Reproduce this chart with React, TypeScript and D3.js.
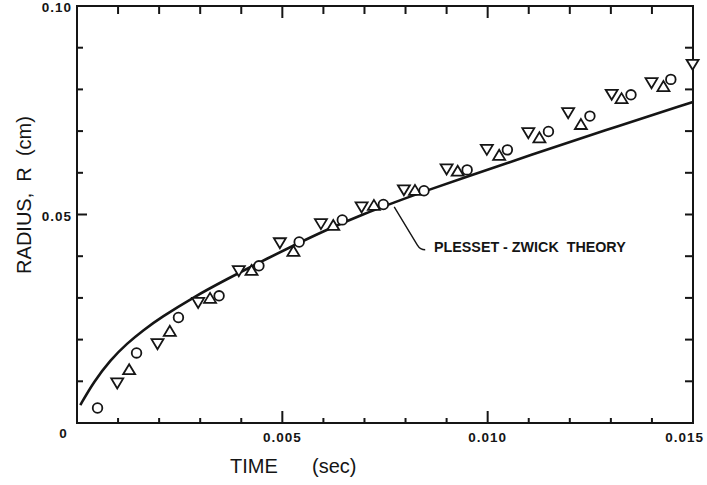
import React from "react";
import * as d3 from "d3";

// ---- data ----
const circleTime = [0.0005, 0.00145, 0.00247, 0.00346, 0.00443, 0.00541, 0.00646, 0.00746, 0.00845, 0.0095, 0.01048, 0.01148, 0.01249, 0.01349, 0.01446];
const circleRadius = [0.0036, 0.0168, 0.0253, 0.0305, 0.0377, 0.0434, 0.0487, 0.0524, 0.0557, 0.0607, 0.0655, 0.0699, 0.0736, 0.0787, 0.0824];

const upTime = [0.00127, 0.00226, 0.00324, 0.00425, 0.00527, 0.00624, 0.00723, 0.00823, 0.00927, 0.01028, 0.01126, 0.01227, 0.01326, 0.01428];
const upRadius = [0.0129, 0.0221, 0.0300, 0.0367, 0.0413, 0.0475, 0.0523, 0.0559, 0.0605, 0.0643, 0.0685, 0.0717, 0.0779, 0.0808];

const downTime = [0.00098, 0.00196, 0.00295, 0.00394, 0.00494, 0.00594, 0.00693, 0.00796, 0.009, 0.00998, 0.01099, 0.01196, 0.01302, 0.01399, 0.01499];
const downRadius = [0.0095, 0.0189, 0.0288, 0.0364, 0.0431, 0.0477, 0.0517, 0.0558, 0.0608, 0.0655, 0.0695, 0.0743, 0.0787, 0.0815, 0.0859];

const theoryTime = [0.00008, 0.00041, 0.00081, 0.00122, 0.00162, 0.00203, 0.00284, 0.00365, 0.00446, 0.00528, 0.00609, 0.007, 0.0077, 0.0085, 0.0095, 0.011, 0.0128, 0.015];
const theoryRadius = [0.0043, 0.0099, 0.0151, 0.0191, 0.0223, 0.0252, 0.0302, 0.0345, 0.0386, 0.0426, 0.0464, 0.0502, 0.0528, 0.0557, 0.0591, 0.0641, 0.07, 0.077];

const xMinorTicks = [0.001, 0.002, 0.003, 0.004, 0.005, 0.006, 0.007, 0.008, 0.009, 0.01, 0.011, 0.012, 0.013, 0.014];
const xMajorTicks = [0.005, 0.01];
const xTickLabels = [
  { v: 0.005, label: "0.005" },
  { v: 0.01, label: "0.010" },
  { v: 0.015, label: "0.015" },
];
const yMinorTicks = [0.01, 0.02, 0.03, 0.04, 0.05, 0.06, 0.07, 0.08, 0.09];
const yMajorTicks = [0.05];
const yTickLabels = [
  { v: 0.05, label: "0.05" },
  { v: 0.1, label: "0.10" },
];

const annotationText = "PLESSET - ZWICK  THEORY";
const xTitle = "TIME";
const xUnit = "(sec)";
const yTitle = "RADIUS,  R  (cm)";

export default function App() {
  const W = 707;
  const H = 485;
  const left = 77, right = 693, top = 6, bottom = 423;
  const x = d3.scaleLinear().domain([0, 0.015]).range([left, right]);
  const y = d3.scaleLinear().domain([0, 0.1]).range([bottom, top]);
  const ink = "#151515";
  const font = "'Liberation Sans', Arial, Helvetica, sans-serif";

  const theory = theoryTime.map((t, i) => [t, theoryRadius[i]] as [number, number]);
  const line = d3
    .line<[number, number]>()
    .x((d) => x(d[0]))
    .y((d) => y(d[1]))
    .curve(d3.curveBasis);

  const tri = (cx: number, cy: number, up: boolean) => {
    const hw = 6, hh = 5;
    return up
      ? `M${cx - hw},${cy + hh}L${cx + hw},${cy + hh}L${cx},${cy - hh}Z`
      : `M${cx - hw},${cy - hh}L${cx + hw},${cy - hh}L${cx},${cy + hh}Z`;
  };

  // annotation anchor on the theory curve
  const ax = x(0.0077);
  const ay = y(0.0528);

  return (
    <svg
      width={W}
      height={H}
      style={{ position: "absolute", left: 0, top: 0, background: "#fff" }}
      fontFamily={font}
    >
      <rect x={0} y={0} width={W} height={H} fill="#fff" />
      {/* frame */}
      <rect x={left} y={top} width={right - left} height={bottom - top} fill="none" stroke={ink} strokeWidth={2} />

      {/* x ticks bottom & top */}
      {xMinorTicks.map((t) => {
        const major = xMajorTicks.includes(t);
        return (
          <g key={"xt" + t}>
            <line x1={x(t)} x2={x(t)} y1={bottom} y2={bottom - (major ? 12 : 5)} stroke={ink} strokeWidth={2} />
            <line x1={x(t)} x2={x(t)} y1={top} y2={top + (major ? 12 : 8)} stroke={ink} strokeWidth={2} />
          </g>
        );
      })}
      {/* y ticks left & right */}
      {yMinorTicks.map((v) => {
        const major = yMajorTicks.includes(v);
        return (
          <g key={"yt" + v}>
            <line x1={left} x2={left + (major ? 10 : 6)} y1={y(v)} y2={y(v)} stroke={ink} strokeWidth={2} />
            <line x1={right} x2={right - 8} y1={y(v)} y2={y(v)} stroke={ink} strokeWidth={2} />
          </g>
        );
      })}

      {/* tick labels */}
      {xTickLabels.map((d) => (
        <text
          key={"xl" + d.v}
          x={d.v === 0.015 ? 704 : x(d.v)}
          y={442}
          textAnchor={d.v === 0.015 ? "end" : "middle"}
          fontSize={13.5}
          fontWeight="bold"
          letterSpacing={1}
          fill={ink}
        >
          {d.label}
        </text>
      ))}
      {yTickLabels.map((d) => (
        <text
          key={"yl" + d.v}
          x={72}
          y={y(d.v) + 6}
          textAnchor="end"
          fontSize={13.5}
          fontWeight="bold"
          letterSpacing={1}
          fill={ink}
        >
          {d.label}
        </text>
      ))}
      <text x={63} y={438} textAnchor="middle" fontSize={13.5} fontWeight="bold" fill={ink}>
        0
      </text>

      {/* axis titles */}
      <text x={230} y={473} fontSize={20} fill={ink}>
        {xTitle}
      </text>
      <text x={312} y={473} fontSize={20} fill={ink}>
        {xUnit}
      </text>
      <text
        transform={`translate(31,${195}) rotate(-90)`}
        textAnchor="middle"
        fontSize={20}
        fill={ink}
        style={{ whiteSpace: "pre" }}
      >
        {yTitle}
      </text>

      {/* theory curve */}
      <path d={line(theory) || ""} fill="none" stroke={ink} strokeWidth={2.6} />

      {/* annotation */}
      <path
        d={`M${ax + 1},${ay + 4} L${ax + 24},${ay + 42} Q${ax + 27},${ay + 47} ${ax + 32},${ay + 47}`}
        fill="none"
        stroke={ink}
        strokeWidth={1.4}
      />
      <text x={434} y={252} fontSize={14.3} fontWeight="bold" fill={ink} style={{ whiteSpace: "pre" }}>
        {annotationText}
      </text>

      {/* data */}
      {downTime.map((t, i) => (
        <path key={"d" + i} d={tri(x(t), y(downRadius[i]), false)} fill="#fff" stroke={ink} strokeWidth={1.8} />
      ))}
      {upTime.map((t, i) => (
        <path key={"u" + i} d={tri(x(t), y(upRadius[i]), true)} fill="#fff" stroke={ink} strokeWidth={1.8} />
      ))}
      {circleTime.map((t, i) => (
        <circle key={"c" + i} cx={x(t)} cy={y(circleRadius[i])} r={4.8} fill="#fff" stroke={ink} strokeWidth={1.8} />
      ))}
    </svg>
  );
}
